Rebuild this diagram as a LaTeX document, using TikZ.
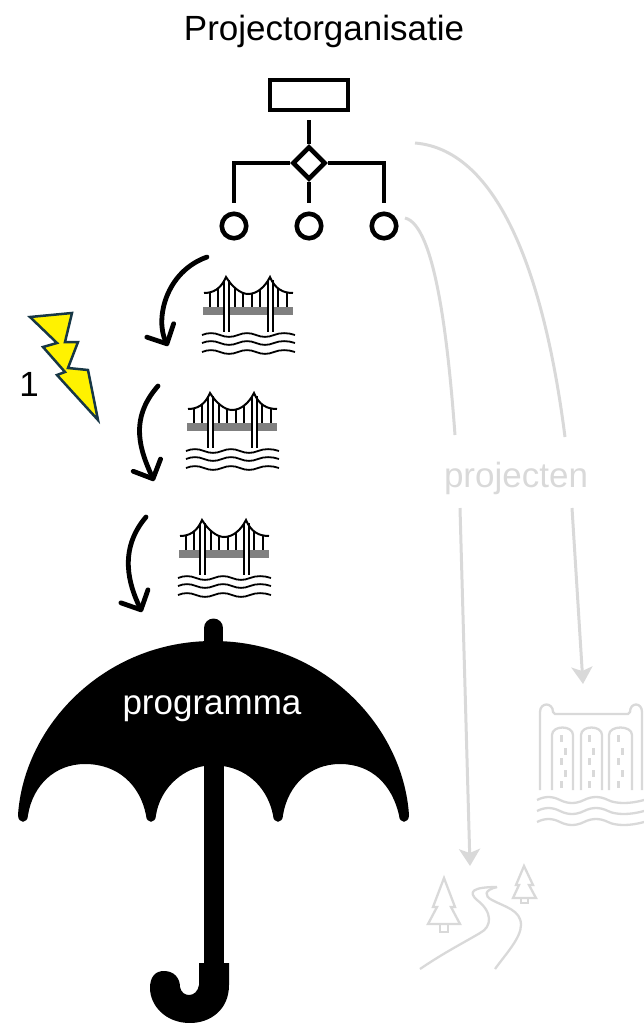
\documentclass[tikz,border=0pt]{standalone}
\usepackage{fontspec}
\setmainfont{Liberation Sans}
\usetikzlibrary{calc,arrows.meta}
\definecolor{lightline}{RGB}{217,217,217}
\definecolor{boltedge}{RGB}{23,55,70}
\tikzset{
    orgline/.style={line width=4.6pt},
    flowarrow/.style={line width=4.8pt, line cap=round, -{Straight Barb[length=15pt,width=30pt,line width=4.8pt,round]}},
    greyarrow/.style={lightline, line width=3pt, -{Stealth[length=17pt,width=21pt,inset=4pt]}},
    greyline/.style={lightline, line width=3pt},
    iconline/.style={line width=1.8pt},
    label/.style={font=\fontsize{35}{35}\selectfont, inner sep=0pt},
    bridge/.pic={
        % deck and towers
        \fill[black!50] (-46,30) rectangle (44,38);
        \draw[line width=7pt] (-23,3) -- (-23,55) (21,3) -- (21,55);
        \draw[white, line width=3pt] (-23,3) -- (-23,55) (21,3) -- (21,55);
        \draw[line width=2pt] (-45,16) .. controls (-36,16) and (-28,12) .. (-23,0)
            .. controls (-17,10) and (-8,17) .. (-1,17) .. controls (8,17) and (16,10) .. (21,0)
            .. controls (26,12) and (34,16) .. (44,16);
        \foreach \hx/\hy in {-39/16,-31/12,-14/10,-6/15,3/16,11/12,29/11,38/15}
            \draw[iconline] (\hx,\hy) -- (\hx,30);
        % water
        \foreach \wy in {58,66,75}
            \draw[iconline] (-47,\wy) .. controls (-41,\wy-2.5) and (-35,\wy-2.5) .. (-29,\wy)
                .. controls (-23,\wy+2.5) and (-17,\wy+2.5) .. (-11,\wy)
                .. controls (-5,\wy-2.5) and (1,\wy-2.5) .. (7,\wy)
                .. controls (13,\wy+2.5) and (19,\wy+2.5) .. (25,\wy)
                .. controls (31,\wy-2.5) and (39,\wy-2.5) .. (46,\wy);
    }
}
\begin{document}
\begin{tikzpicture}[x=1pt,y=-1pt]
    \useasboundingbox (0,0) rectangle (644,1023);
    \node[label] (title) at (324,31) {Projectorganisatie};

    % Organisation chart
    \node[draw, orgline, minimum width=78pt, minimum height=30pt, inner sep=0pt] (board) at (309,95) {};
    \node[draw, orgline, fill=white, shape=rectangle, rotate=45, minimum size=22pt, inner sep=0pt] (split) at (309,163) {};
    \node[draw, orgline, circle, minimum size=24.5pt, inner sep=0pt] (team a) at (234,226) {};
    \node[draw, orgline, circle, minimum size=24.5pt, inner sep=0pt] (team b) at (309,226) {};
    \node[draw, orgline, circle, minimum size=24.5pt, inner sep=0pt] (team c) at (384,226) {};
    \coordinate (board low) at (309,120);
    \coordinate (a high) at (234,203);
    \coordinate (b high) at (309,203);
    \coordinate (c high) at (384,203);
    \draw[orgline] (board low) -- (split.north east);
    \draw[orgline] (split.south west) -- (b high);
    \draw[orgline] (split.north west) -| (a high);
    \draw[orgline] (split.south east) -| (c high);

    % Bridges
    \pic at (249,277) {bridge};
    \pic at (233,393) {bridge};
    \pic at (225,520) {bridge};

    % Black arrows
    \coordinate (a1) at (207,257);
    \coordinate (a2) at (168,346);
    \coordinate (b1) at (158,386);
    \coordinate (b2) at (154,481);
    \coordinate (c1) at (146,517);
    \coordinate (c2) at (142,612);
    \draw[flowarrow] (a1) .. controls (165,272) and (155,320) .. (a2);
    \draw[flowarrow] (b1) .. controls (128,420) and (141,452) .. (b2);
    \draw[flowarrow] (c1) .. controls (118,550) and (129,585) .. (c2);

    % Lightning
    \draw[boltedge, fill=yellow, line width=2.5pt, line join=miter]
        (30,317) -- (72,313) -- (65,342) -- (78,342) -- (68,368) -- (88,370) -- (98,420)
        -- (57,375) -- (65,372) -- (43,347) -- (57,343) -- cycle;
    \node[label] (one) at (29,384) {1};

    % Umbrella
    \draw[line width=19pt, line cap=round] (213.5,628) -- (213.5,660);
    \fill (18,815) .. controls (24,725) and (105,641) .. (213,641)
        .. controls (322,641) and (403,725) .. (409,815)
        .. controls (409,824) and (399,824) .. (399,815)
        .. controls (392,785) and (372,764) .. (340,764)
        .. controls (310,764) and (288,785) .. (283,815)
        .. controls (283,824) and (273,824) .. (273,815)
        .. controls (268,790) and (250,770) .. (223,766)
        -- (204,766)
        .. controls (180,770) and (160,790) .. (156,815)
        .. controls (156,824) and (146,824) .. (146,815)
        .. controls (140,785) and (118,764) .. (85,764)
        .. controls (55,764) and (33,785) .. (28,815)
        .. controls (28,824) and (18,824) .. (18,815) -- cycle;
    \fill (204,740) rectangle (224,966);
    \fill (199,963) -- (229,963) -- (229,985) .. controls (229,1010) and (210,1023) .. (190,1023)
        .. controls (165,1023) and (150,1005) .. (150,988)
        .. controls (150,976) and (156,971) .. (164,971)
        .. controls (174,971) and (180,978) .. (180,987)
        .. controls (182,998) and (197,998) .. (199,985) -- cycle;
    \node[label, white] (umbrella text) at (212,709) {programma};

    % Grey part
    \node[label, lightline] (projects) at (516,478) {projecten};
    \coordinate (far start) at (415,143);
    \coordinate (far gap) at (565,437);
    \coordinate (far cont) at (572,508);
    \coordinate (far end) at (583,684);
    \coordinate (near start) at (405,218);
    \coordinate (near gap) at (455,435);
    \coordinate (near cont) at (460,508);
    \coordinate (near end) at (470,866);
    \draw[greyline] (far start) .. controls (500,150) and (545,280) .. (far gap);
    \draw[greyarrow] (far cont) -- (far end);
    \draw[greyline] (near start) .. controls (435,225) and (448,340) .. (near gap);
    \draw[greyarrow] (near cont) -- (near end);

    % Dam
    \begin{scope}[lightline, line width=2.3pt]
        \draw (540,790) -- (540,712) .. controls (540,702) and (553,702) .. (553,712)
            -- (555,714) -- (628,714) -- (630,712) .. controls (630,702) and (642,702) .. (642,712) -- (642,790);
        \draw (552,790) -- (552,735) .. controls (552,725) and (573,725) .. (573,735) -- (573,790);
        \draw (581,790) -- (581,735) .. controls (581,725) and (602,725) .. (602,735) -- (602,790);
        \draw (609,790) -- (609,735) .. controls (609,725) and (632,725) .. (632,735) -- (632,790);
        \foreach \gx in {561,589,618} {
            \draw[line width=3pt, dash pattern=on 7pt off 16pt] (\gx,735) -- (\gx,790);
            \draw[line width=3pt, dash pattern=on 7pt off 15pt] (\gx+4,748) -- (\gx+4,778);
        }
        \foreach \wy in {800,811,822}
            \draw (537,\wy) .. controls (545,\wy-4) and (552,\wy-4) .. (560,\wy)
                .. controls (568,\wy+4) and (576,\wy+4) .. (584,\wy)
                .. controls (592,\wy-4) and (600,\wy-4) .. (608,\wy)
                .. controls (616,\wy+4) and (630,\wy+4) .. (644,\wy);
    \end{scope}

    % River with trees
    \begin{scope}[lightline, line width=2.3pt]
        \draw (444,878) -- (433,907) -- (437,907) -- (428,924) -- (460,924) -- (451,907) -- (455,907) -- cycle;
        \draw (440,924) -- (440,932) -- (448,932) -- (448,924);
        \draw (524,866) -- (516,885) -- (519,885) -- (513,898) -- (536,898) -- (529,885) -- (533,885) -- cycle;
        \draw (521,898) -- (521,903) -- (528,903) -- (528,898);
        \draw (420,969) .. controls (445,952) and (465,942) .. (480,933)
            .. controls (492,927) and (493,912) .. (477,900)
            .. controls (468,892) and (472,887) .. (497,887);
        \draw (497,887) .. controls (484,890) and (484,896) .. (492,900)
            .. controls (505,907) and (521,910) .. (521,925)
            .. controls (521,938) and (505,955) .. (495,969);
    \end{scope}
\end{tikzpicture}
\end{document}
